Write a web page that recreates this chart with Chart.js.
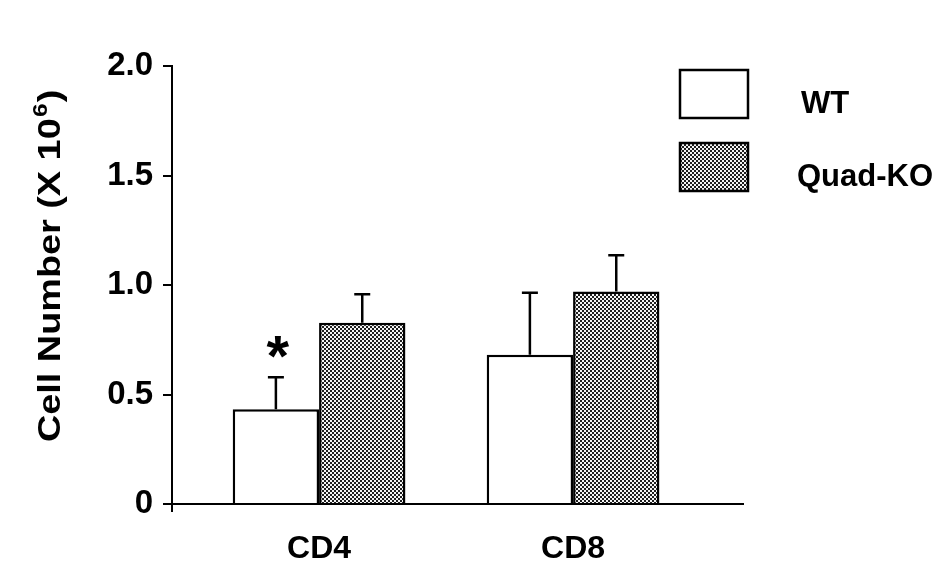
<!DOCTYPE html>
<html><head><meta charset="utf-8">
<script src="https://cdn.jsdelivr.net/npm/chart.js@4.4.1/dist/chart.umd.min.js"></script>
<style>html,body{margin:0;padding:0;background:#fff;} canvas{display:block;}</style>
</head><body>
<canvas id="c" width="950" height="584"></canvas>
<script>
// ---- data ----
const categories = ['CD4', 'CD8'];
const seriesNames = ['WT', 'Quad-KO'];
const wtValues = [0.433, 0.681];
const koValues = [0.828, 0.970];
const wtErrors = [0.146, 0.284];
const koErrors = [0.130, 0.166];
const wtMarks = ['*', ''];
const koMarks = ['', ''];
const yTickLabels = ['0', '0.5', '1.0', '1.5', '2.0'];
const yTitleMain = 'Cell Number (X 10';
const yTitleSup = '6';
const yTitleEnd = ')';

const FONT = "'Liberation Sans', Arial, Helvetica, sans-serif";

const canvas = document.getElementById('c');
const ctx = canvas.getContext('2d');

// checker pattern for Quad-KO
const pc = document.createElement('canvas');
pc.width = 4; pc.height = 4;
const pctx = pc.getContext('2d');
pctx.fillStyle = '#f4f4f4'; pctx.fillRect(0, 0, 4, 4);
pctx.fillStyle = '#1e1e1e'; pctx.fillRect(0, 0, 2, 2); pctx.fillRect(2, 2, 2, 2);
const koPattern = ctx.createPattern(pc, 'repeat');

const extras = {
  id: 'extras',
  afterDatasetsDraw(chart) {
    const c = chart.ctx, ys = chart.scales.y;
    chart.data.datasets.forEach((ds, di) => {
      const meta = chart.getDatasetMeta(di);
      meta.data.forEach((bar, i) => {
        const v = ds.data[i].y, e = ds.errors[i];
        const yTop = ys.getPixelForValue(v + e);
        c.save();
        c.strokeStyle = '#000'; c.lineWidth = 2.5;
        c.beginPath();
        c.moveTo(bar.x, bar.y); c.lineTo(bar.x, yTop);
        c.moveTo(bar.x - 8, yTop); c.lineTo(bar.x + 8, yTop);
        c.stroke();
        if (ds.marks && ds.marks[i]) {
          c.font = 'bold 58px ' + FONT;
          c.textAlign = 'center'; c.textBaseline = 'alphabetic'; c.fillStyle = '#000';
          c.fillText(ds.marks[i], bar.x + 2, yTop - 1);
        }
        c.restore();
      });
    });
  },
  afterDraw(chart) {
    const c = chart.ctx, a = chart.chartArea;
    c.save();
    // y axis small extension below baseline
    c.strokeStyle = '#000'; c.lineWidth = 2;
    c.beginPath(); c.moveTo(a.left, a.bottom); c.lineTo(a.left, a.bottom + 8); c.stroke();

    // legend
    const lx = 680, ly = 70, lw = 68, lh = 48, step = 73;
    chart.data.datasets.forEach((ds, i) => {
      const top = ly + i * step;
      c.fillStyle = ds.backgroundColor;
      c.fillRect(lx, top, lw, lh);
      c.strokeStyle = '#000'; c.lineWidth = 2.5;
      c.strokeRect(lx, top, lw, lh);
      c.fillStyle = '#000';
      c.font = 'bold 31px ' + FONT;
      c.textAlign = 'left'; c.textBaseline = 'alphabetic';
      c.fillText(ds.label, i === 0 ? 801 : 797, top + 43);
    });

    // y axis title (rotated)
    c.translate(59.5, 442);
    c.rotate(-Math.PI / 2);
    c.scale(1.22, 1);
    c.fillStyle = '#000';
    c.textAlign = 'left'; c.textBaseline = 'alphabetic';
    c.font = 'bold 31px ' + FONT;
    c.fillText(yTitleMain, 0, 0);
    let w = c.measureText(yTitleMain).width;
    c.font = 'bold 20px ' + FONT;
    c.fillText(yTitleSup, w + 1, -13);
    w += c.measureText(yTitleSup).width + 2;
    c.font = 'bold 31px ' + FONT;
    c.fillText(yTitleEnd, w, 0);
    c.restore();
  }
};

new Chart(ctx, {
  type: 'bar',
  data: {
    datasets: [
      {
        label: seriesNames[0],
        data: categories.map((c, i) => ({ x: i, y: wtValues[i] })),
        errors: wtErrors, marks: wtMarks,
        backgroundColor: '#ffffff', borderColor: '#000000', borderWidth: 2.5
      },
      {
        label: seriesNames[1],
        data: categories.map((c, i) => ({ x: i, y: koValues[i] })),
        errors: koErrors, marks: koMarks,
        backgroundColor: koPattern, borderColor: '#000000', borderWidth: 2.5
      }
    ]
  },
  options: {
    responsive: false,
    devicePixelRatio: 1,
    animation: false,
    categoryPercentage: 0.68,
    barPercentage: 1.0,
    layout: { padding: { top: 66, right: 207, bottom: 0, left: 0 } },
    plugins: { legend: { display: false }, tooltip: { enabled: false } },
    scales: {
      x: {
        type: 'linear',
        offset: false,
        min: -0.579, max: 1.669,
        afterBuildTicks: (s) => { s.ticks = categories.map((c, i) => ({ value: i })); },
        afterFit: (s) => { s.height = 80; },
        grid: { display: true, offset: false, drawOnChartArea: false, drawTicks: false },
        border: { display: true, color: '#000', width: 2, z: 1 },
        ticks: {
          callback: (v) => categories[v],
          color: '#000', font: { family: FONT, size: 32, weight: 'bold' },
          padding: 26, maxRotation: 0, autoSkip: false
        }
      },
      y: {
        min: 0, max: 2,
        afterFit: (s) => { s.width = 172; },
        grid: { display: true, drawOnChartArea: false, drawTicks: true, tickLength: 9, color: '#000', lineWidth: 2, z: 1 },
        border: { display: true, color: '#000', width: 2, z: 1 },
        ticks: {
          stepSize: 0.5,
          callback: (v, i) => yTickLabels[i],
          color: '#000', font: { family: FONT, size: 33, weight: 'bold' },
          padding: 10
        }
      }
    }
  },
  plugins: [extras]
});
</script>
</body></html>
